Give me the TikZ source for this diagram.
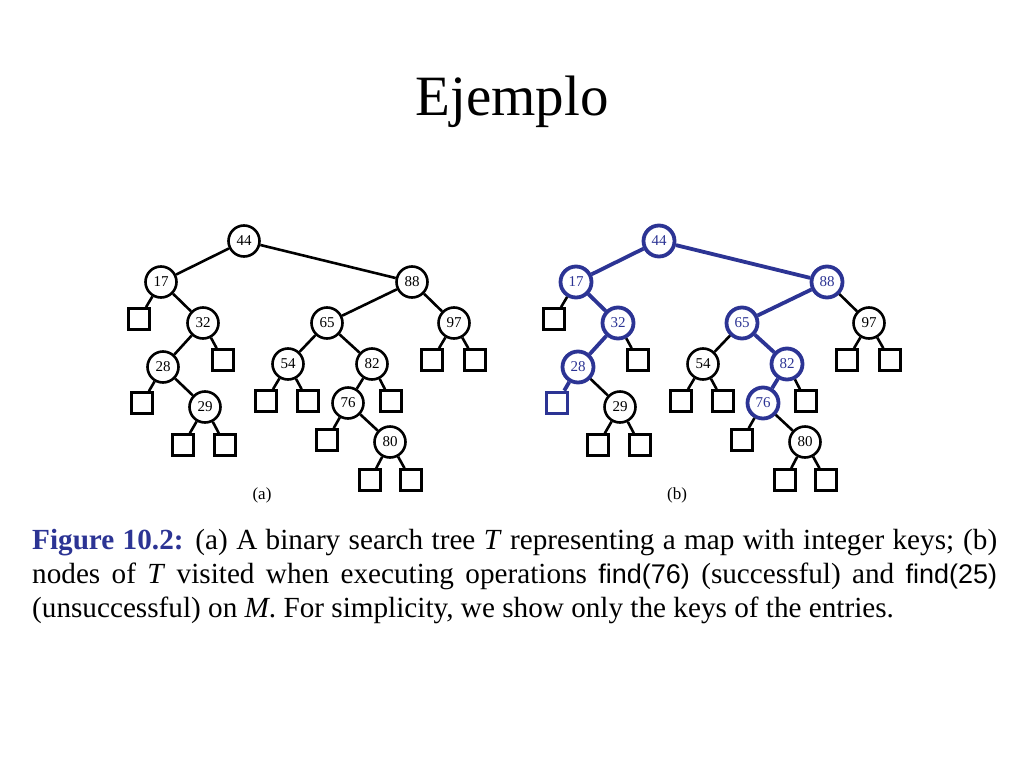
\documentclass[tikz,border=0pt]{standalone}
\usepackage{fontspec}
\setmainfont{Liberation Serif}
\newfontfamily\findfont{Liberation Sans}
\definecolor{visit}{RGB}{44,52,148}

\begin{document}
\begin{tikzpicture}[x=1pt,y=-1pt,
        key/.style={circle,draw,line width=2.6pt,minimum size=31pt,inner sep=0pt,fill=white,font=\fontsize{15}{15}\selectfont},
        ext/.style={rectangle,draw,line width=2.6pt,minimum size=21pt,inner sep=0pt,fill=white},
        seen/.style={draw=visit,text=visit,line width=3.8pt},
        link/.style={line width=2.6pt},
        seenlink/.style={draw=visit,line width=3.8pt}]
        \useasboundingbox (0,0) rectangle (1024,768);

        \node [anchor=base] (title) at (512,115) {\fontsize{57}{57}\selectfont Ejemplo};

        % tree (a)
        \node [key] (A44) at (244,241) {44};
        \node [key] (A17) at (161,282) {17};
        \node [key] (A88) at (412,282) {88};
        \node [ext] (A17l) at (139,319) {};
        \node [key] (A32) at (203,323) {32};
        \node [key] (A65) at (327,323) {65};
        \node [key] (A97) at (454,323) {97};
        \node [key] (A28) at (163,367) {28};
        \node [ext] (A32r) at (223,360) {};
        \node [key] (A54) at (288,364) {54};
        \node [key] (A82) at (372,364) {82};
        \node [ext] (A97l) at (432,360) {};
        \node [ext] (A97r) at (475,360) {};
        \node [ext] (A28l) at (142,403) {};
        \node [key] (A29) at (205,407) {29};
        \node [ext] (A54l) at (266,401) {};
        \node [ext] (A54r) at (308,401) {};
        \node [key] (A76) at (348,403) {76};
        \node [ext] (A82r) at (391,401) {};
        \node [ext] (A29l) at (183,445) {};
        \node [ext] (A29r) at (225,445) {};
        \node [ext] (A76l) at (327,440) {};
        \node [key] (A80) at (390,442) {80};
        \node [ext] (A80l) at (370,480) {};
        \node [ext] (A80r) at (411,480) {};
        \node [] (La) at (262,495) {\fontsize{17}{17}\selectfont (a)};

        \draw [link] (A44) -- (A17) (A44) -- (A88) (A17) -- (A17l) (A17) -- (A32);
        \draw [link] (A32) -- (A28) (A32) -- (A32r) (A28) -- (A28l) (A28) -- (A29);
        \draw [link] (A29) -- (A29l) (A29) -- (A29r) (A88) -- (A65) (A88) -- (A97);
        \draw [link] (A65) -- (A54) (A65) -- (A82) (A54) -- (A54l) (A54) -- (A54r);
        \draw [link] (A82) -- (A76) (A82) -- (A82r) (A76) -- (A76l) (A76) -- (A80);
        \draw [link] (A80) -- (A80l) (A80) -- (A80r) (A97) -- (A97l) (A97) -- (A97r);

        % tree (b), searched paths in blue
        \node [key,seen] (B44) at (659,241) {44};
        \node [key,seen] (B17) at (576,282) {17};
        \node [key,seen] (B88) at (827,282) {88};
        \node [ext] (B17l) at (554,319) {};
        \node [key,seen] (B32) at (618,323) {32};
        \node [key,seen] (B65) at (742,323) {65};
        \node [key] (B97) at (869,323) {97};
        \node [key,seen] (B28) at (578,367) {28};
        \node [ext] (B32r) at (638,360) {};
        \node [key] (B54) at (703,364) {54};
        \node [key,seen] (B82) at (787,364) {82};
        \node [ext] (B97l) at (847,360) {};
        \node [ext] (B97r) at (890,360) {};
        \node [ext,seen] (B28l) at (557,403) {};
        \node [key] (B29) at (620,407) {29};
        \node [ext] (B54l) at (681,401) {};
        \node [ext] (B54r) at (723,401) {};
        \node [key,seen] (B76) at (763,403) {76};
        \node [ext] (B82r) at (806,401) {};
        \node [ext] (B29l) at (598,445) {};
        \node [ext] (B29r) at (640,445) {};
        \node [ext] (B76l) at (742,440) {};
        \node [key] (B80) at (805,442) {80};
        \node [ext] (B80l) at (785,480) {};
        \node [ext] (B80r) at (826,480) {};
        \node [] (Lb) at (677,495) {\fontsize{17}{17}\selectfont (b)};

        \draw [seenlink] (B44) -- (B17) (B17) -- (B32) (B32) -- (B28) (B28) -- (B28l);
        \draw [seenlink] (B44) -- (B88) (B88) -- (B65) (B65) -- (B82) (B82) -- (B76);
        \draw [link] (B17) -- (B17l) (B32) -- (B32r) (B28) -- (B29);
        \draw [link] (B29) -- (B29l) (B29) -- (B29r) (B88) -- (B97);
        \draw [link] (B65) -- (B54) (B54) -- (B54l) (B54) -- (B54r);
        \draw [link] (B82) -- (B82r) (B76) -- (B76l) (B76) -- (B80);
        \draw [link] (B80) -- (B80l) (B80) -- (B80r) (B97) -- (B97l) (B97) -- (B97r);

        \node [anchor=base west,text width=965pt,align=justify,inner sep=0pt,font=\fontsize{29.2}{34}\selectfont] (caption) at (32,549)
            {\textcolor{visit}{\textbf{Figure 10.2:}} (a) A binary search tree \textit{T} representing a map with integer keys; (b)\linebreak
            nodes of \textit{T} visited when executing operations {\findfont\fontsize{27}{34}\selectfont find(76)} (successful) and {\findfont\fontsize{27}{34}\selectfont find(25)}\linebreak
            (unsuccessful) on \textit{M}. For simplicity, we show only the keys of the entries.};
\end{tikzpicture}
\end{document}
